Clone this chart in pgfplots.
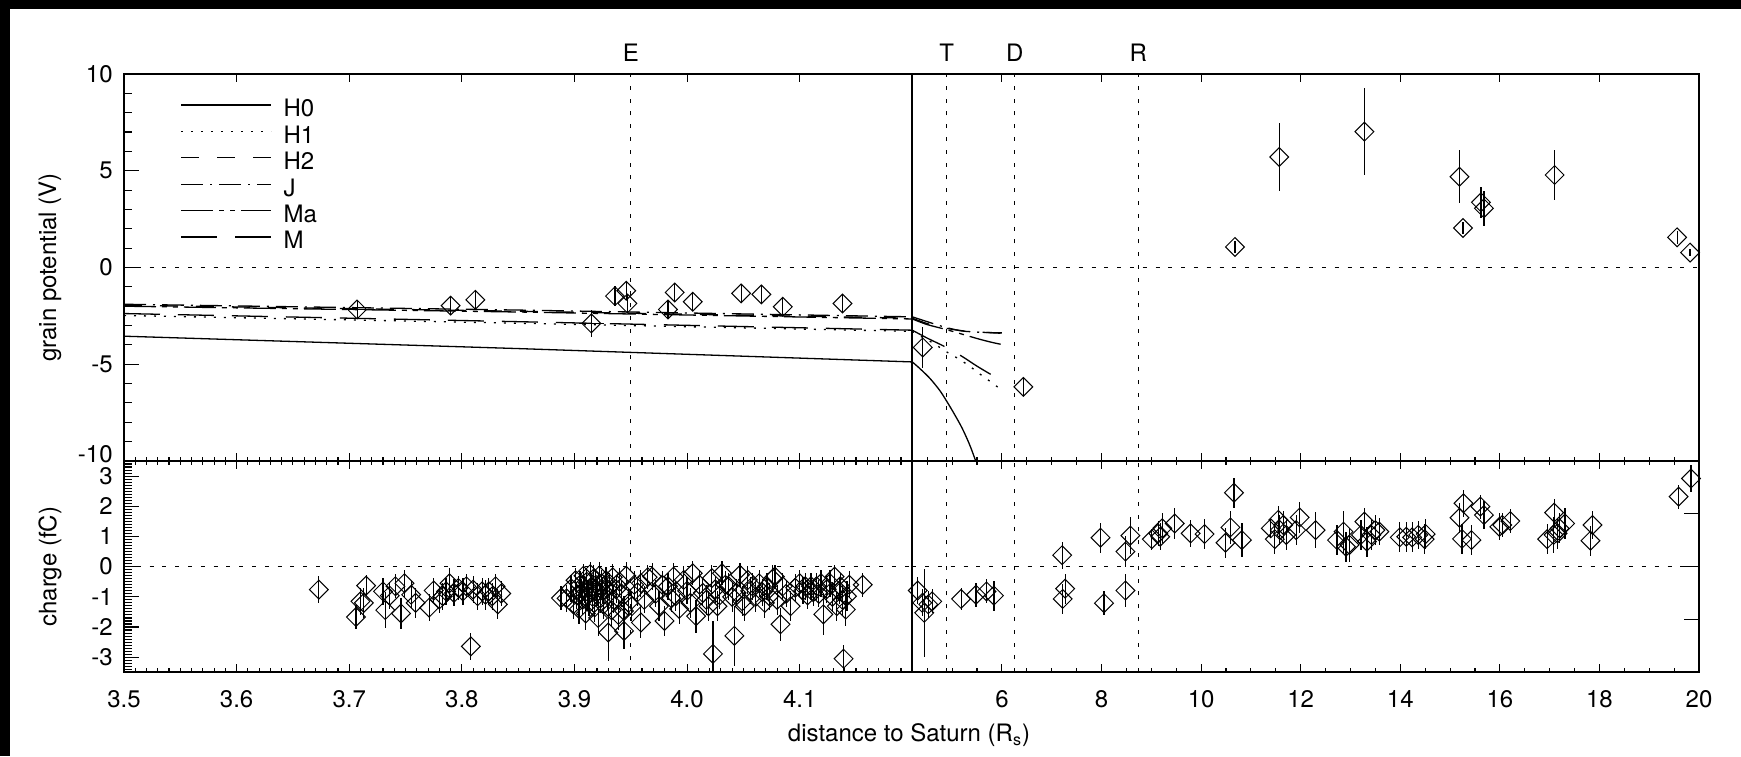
\documentclass[border=0pt]{standalone}
\usepackage{pgfplots}
\pgfplotsset{compat=1.18}
\usepackage{pgfplotstable}
\usepackage{fontspec}
\setmainfont{TeX Gyre Heros}

\pgfplotstableread{
x y ey ex
3.707 -2.17 0.50 0.009
3.790 -1.97 0.50 0
3.812 -1.67 0.45 0
3.915 -2.89 0.70 0.011
3.936 -1.48 0.50 0
3.946 -1.20 0.45 0
3.947 -1.86 0.50 0
3.983 -2.17 0.45 0
3.989 -1.29 0.45 0
4.005 -1.77 0.50 0
4.048 -1.34 0.45 0
4.066 -1.39 0.45 0
4.085 -2.03 0.50 0
4.138 -1.86 0.45 0
}\topL

\pgfplotstableread{
x y ey
4.41 -4.13 1.06
6.43 -6.17 0.45
10.68 1.06 0.30
11.57 5.71 1.75
13.28 7.02 2.25
15.19 4.69 1.36
15.26 2.04 0.30
15.62 3.37 0.80
15.68 3.06 0.90
17.10 4.78 1.30
19.56 1.56 0.35
19.82 0.77 0.20
}\topR

\pgfplotstableread{
x y ey
3.673 -0.76 0.45
3.706 -1.67 0.40
3.710 -1.15 0.45
3.713 -1.20 0.50
3.715 -0.63 0.35
3.730 -0.82 0.45
3.732 -1.44 0.60
3.736 -0.96 0.45
3.741 -0.65 0.40
3.746 -1.55 0.50
3.749 -0.55 0.45
3.755 -0.93 0.45
3.759 -1.20 0.50
3.771 -1.36 0.45
3.775 -0.79 0.40
3.780 -1.09 0.45
3.783 -0.98 0.45
3.786 -0.82 0.45
3.789 -0.55 0.50
3.793 -0.87 0.45
3.797 -0.71 0.40
3.801 -0.82 0.45
3.804 -0.65 0.40
3.808 -2.64 0.45
3.810 -0.76 0.45
3.814 -0.98 0.45
3.818 -0.82 0.45
3.821 -0.93 0.50
3.824 -0.82 0.45
3.827 -0.98 0.45
3.830 -0.65 0.40
3.832 -1.25 0.50
3.835 -0.89 0.40
3.888 -1.04 0.40
3.893 -1.05 0.45
3.897 -0.72 0.45
3.899 -1.25 0.50
3.901 -0.45 0.40
3.902 -0.95 0.45
3.904 -1.40 0.50
3.905 -0.60 0.45
3.906 -0.85 0.45
3.907 -1.10 0.50
3.908 -0.30 0.40
3.909 -0.75 0.45
3.910 -1.55 0.55
3.911 -0.50 0.45
3.912 -0.95 0.50
3.913 -1.20 0.45
3.914 -0.25 0.40
3.915 -0.70 0.45
3.916 -1.00 0.50
3.917 -0.40 0.45
3.918 -1.35 0.50
3.919 -0.60 0.45
3.920 -0.85 0.45
3.921 -1.70 0.60
3.922 -0.30 0.45
3.923 -1.05 0.50
3.924 -0.55 0.45
3.925 -0.80 0.45
3.926 -1.25 0.50
3.928 -0.45 0.45
3.929 -0.95 0.50
3.930 -2.18 0.95
3.931 -0.65 0.45
3.933 -1.45 0.50
3.934 -0.35 0.45
3.935 -1.10 0.45
3.937 -0.75 0.45
3.939 -1.60 0.50
3.940 -0.50 0.45
3.942 -0.90 0.45
3.944 -2.13 0.60
3.944 -1.47 0.50
3.946 -0.30 0.45
3.948 -1.20 0.45
3.951 -1.31 0.50
3.953 -0.60 0.45
3.956 -0.85 0.45
3.959 -1.85 0.50
3.959 -0.55 0.45
3.962 -1.10 0.45
3.965 -0.35 0.40
3.969 -0.33 0.45
3.972 -0.90 0.45
3.975 -1.31 0.50
3.978 -0.60 0.45
3.980 -1.80 0.50
3.983 -0.65 0.45
3.986 -1.05 0.45
3.988 -0.33 0.45
3.990 -0.98 0.50
3.993 -1.40 0.50
3.997 -0.44 0.45
4.000 -0.80 0.45
4.003 -1.20 0.50
4.005 -0.22 0.40
4.008 -1.64 0.55
4.011 -0.60 0.45
4.014 -0.87 0.45
4.017 -1.10 0.50
4.019 -1.31 0.50
4.022 -0.38 0.45
4.023 -2.89 1.10
4.025 -0.75 0.45
4.027 -1.31 0.50
4.029 -0.95 0.45
4.031 -0.22 0.40
4.034 -0.60 0.45
4.037 -0.65 0.45
4.040 -1.00 0.50
4.042 -2.29 1.00
4.044 -0.87 0.45
4.047 -0.27 0.40
4.049 -1.15 0.50
4.051 -1.31 0.50
4.054 -0.44 0.45
4.056 -0.80 0.45
4.058 -0.65 0.45
4.061 -1.00 0.50
4.064 -0.55 0.45
4.067 -0.85 0.45
4.069 -1.20 0.50
4.071 -0.65 0.45
4.073 -0.98 0.45
4.076 -0.40 0.45
4.078 -0.33 0.40
4.080 -1.10 0.50
4.083 -1.91 0.55
4.085 -0.65 0.45
4.088 -0.90 0.45
4.092 -1.31 0.50
4.096 -0.70 0.45
4.100 -0.55 0.45
4.103 -0.80 0.45
4.105 -0.65 0.45
4.107 -0.95 0.45
4.110 -0.65 0.45
4.112 -0.85 0.45
4.115 -0.65 0.45
4.117 -0.90 0.45
4.119 -0.55 0.45
4.121 -1.58 0.70
4.124 -0.75 0.45
4.127 -0.55 0.45
4.129 -1.00 0.50
4.131 -0.33 0.40
4.133 -1.31 0.50
4.135 -0.80 0.45
4.136 -0.65 0.45
4.138 -1.10 0.50
4.139 -3.05 0.45
4.141 -1.42 0.55
4.142 -0.98 0.50
4.144 -0.60 0.45
4.156 -0.60 0.40
}\botL

\pgfplotstableread{
x y ey
4.31 -0.79 0.45
4.40 -1.20 0.45
4.44 -1.53 1.45
4.52 -1.25 0.45
4.60 -1.15 0.40
5.18 -1.07 0.35
5.48 -0.93 0.40
5.69 -0.82 0.40
5.84 -0.96 0.50
7.21 0.38 0.45
7.27 -0.73 0.50
7.22 -1.07 0.50
7.98 0.96 0.50
8.05 -1.21 0.40
8.48 0.50 0.50
8.48 -0.79 0.55
8.58 1.03 0.60
9.01 0.91 0.35
9.14 1.10 0.40
9.22 1.27 0.50
9.18 0.99 0.45
9.47 1.43 0.50
9.79 1.10 0.45
10.07 1.08 0.50
10.49 0.79 0.50
10.59 1.30 0.55
10.66 2.45 0.50
10.82 0.88 0.55
11.40 1.27 0.30
11.48 0.91 0.50
11.55 1.55 0.45
11.58 1.21 0.50
11.65 1.38 0.45
11.71 1.05 0.50
11.91 1.21 0.50
11.98 1.63 0.50
12.30 1.21 0.60
12.73 0.88 0.50
12.86 1.16 0.70
12.91 0.66 0.50
12.98 0.72 0.55
13.21 1.05 0.50
13.28 1.49 0.45
13.33 0.83 0.50
13.42 1.05 0.50
13.50 1.21 0.50
13.58 1.16 0.45
13.99 0.97 0.50
14.12 0.99 0.50
14.24 0.97 0.50
14.36 1.05 0.45
14.49 0.91 0.50
14.51 1.08 0.50
15.19 1.62 0.50
15.27 2.10 0.45
15.24 0.92 0.50
15.43 0.88 0.50
15.61 1.99 0.40
15.68 1.71 0.45
15.99 1.32 0.45
16.05 1.38 0.40
16.21 1.51 0.40
16.95 0.91 0.50
17.09 1.79 0.45
17.08 1.05 0.60
17.16 1.10 0.50
17.31 1.43 0.50
17.20 1.27 0.50
17.82 0.86 0.50
17.86 1.38 0.45
19.59 2.32 0.40
19.84 2.92 0.45
}\botR

\pgfplotstableread{
x H0 H1 H2 J Ma M
3.5  -3.55 -2.48 -1.95 -1.90 -2.00 -2.38
3.85 -4.19 -2.88 -2.26 -2.20 -2.30 -2.80
4.2  -4.88 -3.30 -2.62 -2.55 -2.66 -3.24
}\curvL

\begin{document}
\fontsize{12}{14.4}\selectfont
\begin{tikzpicture}
\useasboundingbox (0,0) rectangle (870.5pt,378pt);
\fill[black] (0,0) rectangle (5pt,378pt);
\fill[black] (0,373.5pt) rectangle (870.5pt,378pt);
\pgfplotsset{
  panel/.style={scale only axis, axis line style={line width=0.9pt},
    tick align=inside, tick style={black, line width=0.55pt},
    major tick length=7.5pt, minor tick length=3.8pt,
    xtick style={/pgfplots/major tick length=4pt, /pgfplots/minor tick length=2pt},
    /pgf/number format/assume math mode=true,
    yticklabel style={xshift=-1.5pt},
    xticklabel style={yshift=-5pt},
  },
  topticks/.style={scale only axis, axis x line*=top, axis y line=none,
    axis line style={line width=0.9pt, -},
    tick align=inside, tick style={black, line width=0.55pt},
    major tick length=4pt, xticklabels={}, ymin=0, ymax=1, height=193.5pt},
  pts/.style={only marks, mark=diamond, mark size=4.7pt,
    mark options={solid, xscale=1.3333, line width=0.5pt, fill=none},
    error bars/y dir=both, error bars/y explicit, error bars/error mark=none,
    error bars/error bar style={line width=0.6pt, solid}},
  refl/.style={black, line width=0.6pt, dash pattern=on 2pt off 4.4pt},
  cH0/.style={black, line width=0.65pt, solid},
  cH1/.style={black, line width=0.65pt, dash pattern=on 1pt off 4pt},
  cH2/.style={black, line width=0.65pt, dash pattern=on 9pt off 9pt},
  cJ/.style={black, line width=0.65pt, dash pattern=on 11pt off 3.5pt on 1pt off 3.5pt},
  cMa/.style={black, line width=0.65pt, dash pattern=on 16pt off 3pt on 2.5pt off 3pt on 2.5pt off 3pt},
  cM/.style={black, line width=0.65pt, dash pattern=on 18pt off 9pt},
}

% ---------- top left ----------
\begin{axis}[panel, at={(62pt,147.5pt)}, anchor=south west,
  width=394.15pt, height=193.5pt,
  xmin=3.5, xmax=4.2, ymin=-10, ymax=10,
  xtick={3.6,3.7,3.8,3.9,4.0,4.1}, xticklabels={},
  minor xtick={3.51,3.52,...,4.195}, xtick pos=bottom,
  ytick={-5,0,5,10}, minor ytick={-9,-8,...,9}, ytick pos=left,
  extra y ticks={-10}, extra y tick style={yticklabel style={yshift=3.5pt}},
  legend cell align=left,
  legend style={draw=none, fill=none, inner sep=0pt, at={(0.071,0.940)}, anchor=north west,
    row sep=2.6pt, nodes={inner sep=1pt, text height=8.6pt, text depth=0pt},
    /tikz/every odd column/.append style={column sep=5pt}},
  legend image code/.code={\draw[#1] (0pt,1.6pt) -- (45pt,1.6pt);},
]
\addplot[cH0] table[x=x,y=H0]{\curvL};
\addplot[cH1] table[x=x,y=H1]{\curvL};
\addplot[cH2] table[x=x,y=H2]{\curvL};
\addplot[cJ]  table[x=x,y=J]{\curvL};
\addplot[cMa] table[x=x,y=Ma]{\curvL};
\addplot[cM]  table[x=x,y=M]{\curvL};
\legend{H0,H1,H2,J,Ma,M}
\addplot[refl, forget plot] coordinates {(3.5,0) (4.2,0)};
\addplot[refl, forget plot] coordinates {(3.95,-10) (3.95,10)};
\addplot[pts, forget plot, error bars/x dir=both, error bars/x explicit]
  table[x=x, y=y, y error=ey, x error=ex]{\topL};
\coordinate (E) at (axis cs:3.95,10);
\end{axis}
\begin{axis}[topticks, at={(62pt,147.5pt)}, anchor=south west, width=394.15pt,
  xmin=3.5, xmax=4.2, xtick={3.6,3.7,3.8,3.9,4.0,4.1}]
\end{axis}

% ---------- top right ----------
\begin{axis}[panel, at={(456.15pt,147.5pt)}, anchor=south west,
  width=393.35pt, height=193.5pt,
  xmin=4.2, xmax=20, ymin=-10, ymax=10,
  xtick={6,8,...,20}, xticklabels={}, xtick pos=bottom,
  minor xtick={4.5,5,...,19.5},
  ytick=\empty,
]
\addplot[cH0, smooth] coordinates {(4.2,-4.88) (4.35,-5.22) (4.55,-5.72) (4.75,-6.35) (4.9,-6.95) (5.05,-7.6) (5.2,-8.3) (5.35,-9.15) (5.48,-10.05) (5.55,-10.6)};
\addplot[cH1, smooth] coordinates {(4.2,-3.3) (4.4,-3.6) (4.6,-3.88) (4.92,-4.41) (5.13,-4.72) (5.35,-5.1) (5.56,-5.51) (5.78,-5.92) (6.0,-6.34)};
\addplot[cM, smooth] coordinates {(4.2,-3.24) (4.5,-3.65) (4.86,-4.1) (5.19,-4.58) (5.5,-5.1) (5.8,-5.56) (6.0,-5.85)};
\addplot[cJ, smooth] coordinates {(4.2,-2.55) (4.5,-2.8) (4.85,-3.08) (5.2,-3.28) (5.6,-3.35) (6.0,-3.38)};
\addplot[cH2, smooth] coordinates {(4.2,-2.62) (4.5,-2.9) (4.9,-3.15) (5.3,-3.3) (5.7,-3.36) (6.0,-3.4)};
\addplot[cMa, smooth] coordinates {(4.2,-2.66) (4.5,-2.95) (4.9,-3.22) (5.5,-3.67) (5.8,-3.87) (6.0,-3.98)};
\addplot[refl] coordinates {(4.2,0) (20,0)};
\addplot[refl] coordinates {(4.89,-10) (4.89,10)};
\addplot[refl] coordinates {(6.26,-10) (6.26,10)};
\addplot[refl] coordinates {(8.74,-10) (8.74,10)};
\addplot[pts] table[x=x, y=y, y error=ey]{\topR};
\coordinate (T) at (axis cs:4.89,10);
\coordinate (D) at (axis cs:6.26,10);
\coordinate (R) at (axis cs:8.74,10);
\end{axis}
\begin{axis}[topticks, at={(456.15pt,147.5pt)}, anchor=south west, width=393.35pt,
  xmin=4.2, xmax=20, xtick={6,8,...,18}]
\end{axis}

% ---------- bottom left ----------
\begin{axis}[panel, at={(62pt,41.85pt)}, anchor=south west,
  width=394.15pt, height=105.65pt,
  xmin=3.5, xmax=4.2, ymin=-3.5, ymax=3.5,
  xtick={3.5,3.6,3.7,3.8,3.9,4.0,4.1},
  xticklabel style={/pgf/number format/fixed, /pgf/number format/fixed zerofill, /pgf/number format/precision=1},
  minor xtick={3.51,3.52,...,4.195},
  ytick={-3,-2,...,3}, minor ytick={-3.5,-3.4,...,3.45}, ytick pos=left,
]
\addplot[refl] coordinates {(3.5,0) (4.2,0)};
\addplot[refl] coordinates {(3.95,-3.5) (3.95,3.5)};
\addplot[pts] table[x=x, y=y, y error=ey]{\botL};
\end{axis}

% ---------- bottom right ----------
\begin{axis}[panel, at={(456.15pt,41.85pt)}, anchor=south west,
  width=393.35pt, height=105.65pt,
  xmin=4.2, xmax=20, ymin=-3.5, ymax=3.5,
  xtick={6,8,...,20},
  minor xtick={4.5,5,...,19.5},
  ytick={-1.75,0,1.75}, yticklabels={}, ytick pos=right,
]
\addplot[refl] coordinates {(4.2,0) (20,0)};
\addplot[refl] coordinates {(4.89,-3.5) (4.89,3.5)};
\addplot[refl] coordinates {(6.26,-3.5) (6.26,3.5)};
\addplot[refl] coordinates {(8.74,-3.5) (8.74,3.5)};
\addplot[pts] table[x=x, y=y, y error=ey]{\botR};
\end{axis}

\node[anchor=base] at ([yshift=6.25pt]E) {E};
\node[anchor=base] at ([yshift=6.25pt]T) {T};
\node[anchor=base] at ([yshift=6.25pt]D) {D};
\node[anchor=base] at ([yshift=6.25pt]R) {R};
\node[rotate=90] at (25pt,244.25pt) {grain potential (V)};
\node[rotate=90] at (25pt,94.65pt) {charge (fC)};
\node at (454.5pt,10.3pt) {distance to Saturn (R\textsubscript{s})};
\end{tikzpicture}
\end{document}
